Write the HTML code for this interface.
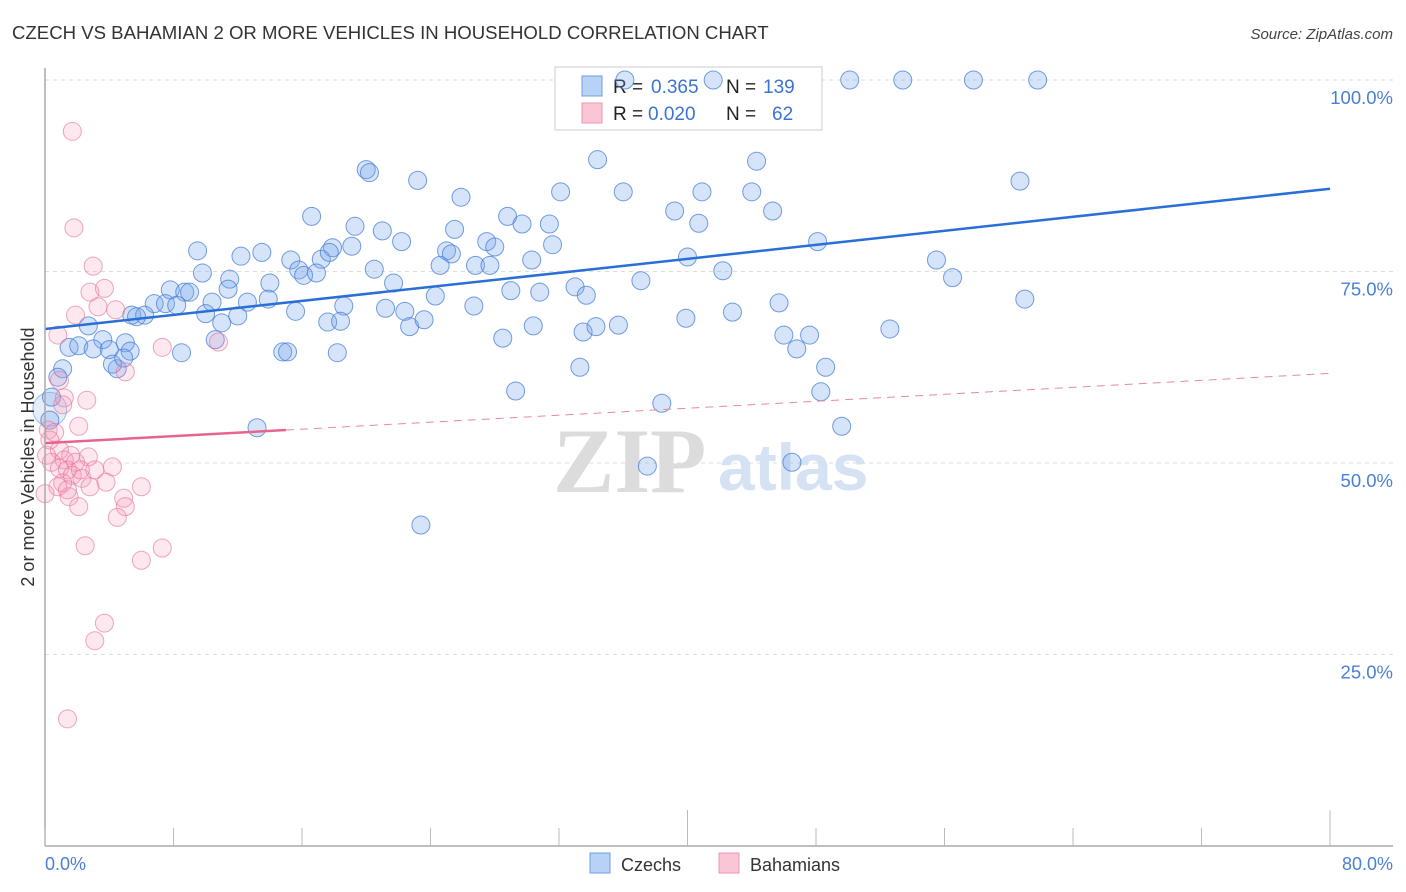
<!DOCTYPE html>
<html><head><meta charset="utf-8">
<style>
body{margin:0;background:#fff;width:1406px;height:892px;overflow:hidden;font-family:"Liberation Sans",sans-serif;}
svg{display:block}
</style></head>
<body>
<svg id="chart" width="1406" height="892" xmlns="http://www.w3.org/2000/svg">
<text x="12" y="39" font-size="18.6" fill="#333">CZECH VS BAHAMIAN 2 OR MORE VEHICLES IN HOUSEHOLD CORRELATION CHART</text>
<text x="1393" y="39" font-size="15" fill="#444" font-style="italic" text-anchor="end">Source: ZipAtlas.com</text>
<g id="grid"></g>
<g id="watermark">
<text x="553" y="492" font-size="92" fill="#dcdcdc" font-family="Liberation Serif,serif" font-weight="bold">ZIP</text>
<text x="718" y="490" font-size="66" fill="#d4e2f4" font-weight="bold">atlas</text>
</g>
<g>
<rect x="555" y="67" width="267" height="63" fill="#fff" stroke="#ccc"/>
<rect x="582" y="76" width="20" height="20" fill="#b7d2f5" stroke="#6f9ee0"/>
<rect x="582" y="103" width="20" height="20" fill="#fac5d4" stroke="#eb97b0"/>
<text x="613" y="93" font-size="19" fill="#222">R = </text><text x="651" y="93" font-size="19" fill="#3a74d0">0.365</text>
<text x="726" y="93" font-size="19" fill="#222">N = </text><text x="763" y="93" font-size="19" fill="#3a74d0">139</text>
<text x="613" y="120" font-size="19" fill="#222">R = </text><text x="648" y="120" font-size="19" fill="#3a74d0">0.020</text>
<text x="726" y="120" font-size="19" fill="#222">N = </text><text x="772" y="120" font-size="19" fill="#3a74d0">62</text>
</g>
<g id="pts"></g>
<g id="lines"></g>
<g id="axes"></g>
<text transform="translate(34,457) rotate(-90)" font-size="18" fill="#333" text-anchor="middle">2 or more Vehicles in Household</text>
<g>
<rect x="590" y="853" width="20" height="20" fill="#b7d2f5" stroke="#6f9ee0"/>
<text x="621" y="871" font-size="18" fill="#333">Czechs</text>
<rect x="719" y="853" width="20" height="20" fill="#fac5d4" stroke="#eb97b0"/>
<text x="750" y="871" font-size="18" fill="#333">Bahamians</text>
</g>
</svg>
<script>
const czX=[36.1,41.6,50.1,53.4,57.8,61.8,34.4,44.3,20.0,20.2,23.2,60.7,25.9,32.1,36.0,40.9,44.0,16.6,28.8,19.3,25.5,29.7,31.4,39.2,40.7,45.3,9.5,12.2,13.5,21.0,22.2,19.1,17.9,25.0,25.3,27.5,28.0,31.6,48.1,15.3,17.2,17.7,9.8,11.5,14.0,15.8,16.1,16.9,20.5,21.7,24.6,26.8,27.7,30.3,40.0,42.2,55.5,56.5,7.8,8.7,9.0,10.4,11.4,12.6,13.9,6.8,7.5,8.2,5.4,6.2,5.7,10.0,12.0,11.0,15.6,18.6,21.2,22.4,24.3,26.7,29.0,30.8,33.0,33.7,37.1,42.8,45.7,61.0,2.7,3.6,5.0,1.5,2.1,3.0,4.0,5.3,8.5,10.6,14.8,15.1,18.2,17.6,18.4,22.7,23.6,28.5,30.4,33.5,34.3,35.7,39.9,46.0,46.8,47.6,52.6,1.1,4.5,4.2,4.9,0.8,0.4,29.3,33.3,48.6,48.3,38.4,13.2,49.6,37.5,46.5,23.4,0.3];
const czY=[100,100,100,100,100,100,89.6,89.4,88.3,87.9,86.9,86.8,84.7,85.4,85.4,85.4,85.4,82.2,82.2,80.9,80.5,81.2,81.2,82.9,81.3,82.9,77.7,77.0,77.5,80.3,78.9,78.3,78.1,77.7,77.3,78.9,78.2,78.5,78.9,76.5,76.6,77.5,74.8,74.0,73.5,75.2,74.5,74.8,75.3,73.5,75.8,75.8,75.8,76.5,76.9,75.1,76.5,74.2,72.6,72.3,72.3,71.0,72.7,71.0,71.4,70.8,70.8,70.6,69.3,69.3,69.1,69.5,69.2,68.3,69.8,70.5,70.2,69.8,71.8,70.5,72.5,72.3,73.0,71.9,73.8,69.7,70.9,71.4,67.9,66.1,65.7,65.1,65.3,64.9,64.8,64.6,64.4,66.1,64.5,64.5,64.4,68.4,68.5,67.8,68.7,66.3,67.9,67.1,67.8,68.0,68.9,66.7,64.9,66.7,67.5,62.3,62.3,62.9,63.7,61.2,58.6,59.4,62.5,62.5,59.3,57.8,54.6,54.8,49.6,50.1,41.9,55.6];
const bhX=[1.7,1.8,3.0,2.8,3.7,3.3,1.9,0.8,4.4,10.8,7.3,5.0,0.9,1.2,2.6,1.1,2.1,0.2,0.6,0.9,1.6,1.2,2.7,0.4,1.9,0.9,1.4,1.7,2.3,2.8,4.2,3.8,1.1,6.0,0.8,1.5,2.1,4.9,5.0,4.5,0.0,2.5,7.3,6.0,3.7,3.1,1.4,0.1,0.3,3.1,2.2,1.4];
const bhY=[93.3,80.7,75.7,72.3,72.8,70.4,69.3,66.7,70.0,65.8,65.1,61.9,60.8,58.5,58.2,57.6,54.8,54.3,54.0,51.7,51.0,50.4,50.8,50.1,50.1,49.3,49.1,48.4,48.0,46.9,49.5,47.5,47.4,46.9,46.9,45.6,44.3,45.4,44.3,42.9,46.0,39.2,38.9,37.3,29.1,26.8,16.6,51.0,53.0,49.1,49.1,46.5];
const czTrend=[67.5,85.8];   // value at x=0 and x=80
const bhTrend=[52.6,61.7];
const bhSolidEnd=15;
const yTicks=[25,50,75,100];
const xTickLabels=["0.0%","80.0%"];

const NS="http://www.w3.org/2000/svg";
const X0=45,X1=1330,Y0=846,Y100=80;
const sx=v=>X0+(X1-X0)*v/80;
const sy=v=>Y0-(Y0-Y100)*v/100;
function mk(tag,attrs,parent){const e=document.createElementNS(NS,tag);for(const k in attrs)e.setAttribute(k,attrs[k]);parent.appendChild(e);return e;}
const grid=document.getElementById('grid'),axes=document.getElementById('axes'),pts=document.getElementById('pts'),lines=document.getElementById('lines');
yTicks.forEach(t=>{
  const l=mk('line',{x1:X0,x2:1393,y1:sy(t),y2:sy(t),stroke:'#ddd','stroke-dasharray':'4,4'},grid);
  
  
  const tx=mk('text',{x:1393,y:sy(t)+24,'font-size':18.5,fill:'#4a7fd4','text-anchor':'end'},axes);
  tx.textContent=t.toFixed(1)+'%';
  
  
});
const ya=mk('line',{x1:X0,x2:X0,y1:68,y2:Y0,stroke:'#aaa','stroke-width':1.5},axes);


const xa=mk('line',{x1:X0,x2:1393,y1:Y0,y2:Y0,stroke:'#aaa','stroke-width':1.5},axes);


for(let i=0;i<=10;i++){
  const v=i*8;const tall=(i==5||i==10);
  const t=mk('line',{x1:sx(v),x2:sx(v),y1:tall?810:828,y2:Y0,stroke:'#bbb'},axes);
  
  
}
const l0=mk('text',{x:45,y:870,'font-size':18,fill:'#4a7fd4'},axes);l0.textContent=xTickLabels[0];


const l1=mk('text',{x:1393,y:870,'font-size':18,fill:'#4a7fd4','text-anchor':'end'},axes);l1.textContent=xTickLabels[1];



const big=mk('circle',{cx:sx(0.3),cy:sy(57),r:17,fill:'rgba(110,155,225,0.18)',stroke:'rgba(80,130,210,0.5)'},pts);


czX.forEach((x,i)=>{
  const c=mk('circle',{cx:sx(x),cy:sy(czY[i]),r:9,fill:'rgba(120,165,235,0.3)',stroke:'rgba(70,125,215,0.75)','stroke-width':1},pts);
  
  
});
bhX.forEach((x,i)=>{
  const c=mk('circle',{cx:sx(x),cy:sy(bhY[i]),r:9,fill:'rgba(245,150,180,0.22)',stroke:'rgba(230,120,155,0.65)','stroke-width':1},pts);
  
  
});
const ct=mk('line',{x1:sx(0),y1:sy(czTrend[0]),x2:sx(80),y2:sy(czTrend[1]),stroke:'#2a6fd6','stroke-width':2.5},lines);


const bAt=v=>bhTrend[0]+(bhTrend[1]-bhTrend[0])*v/80;
const bt=mk('line',{x1:sx(0),y1:sy(bAt(0)),x2:sx(bhSolidEnd),y2:sy(bAt(bhSolidEnd)),stroke:'#e8648e','stroke-width':2.5},lines);


const bd=mk('line',{x1:sx(bhSolidEnd),y1:sy(bAt(bhSolidEnd)),x2:sx(80),y2:sy(bAt(80)),stroke:'#e8889f','stroke-width':1,'stroke-dasharray':'8,6'},lines);


</script>
</body></html>
